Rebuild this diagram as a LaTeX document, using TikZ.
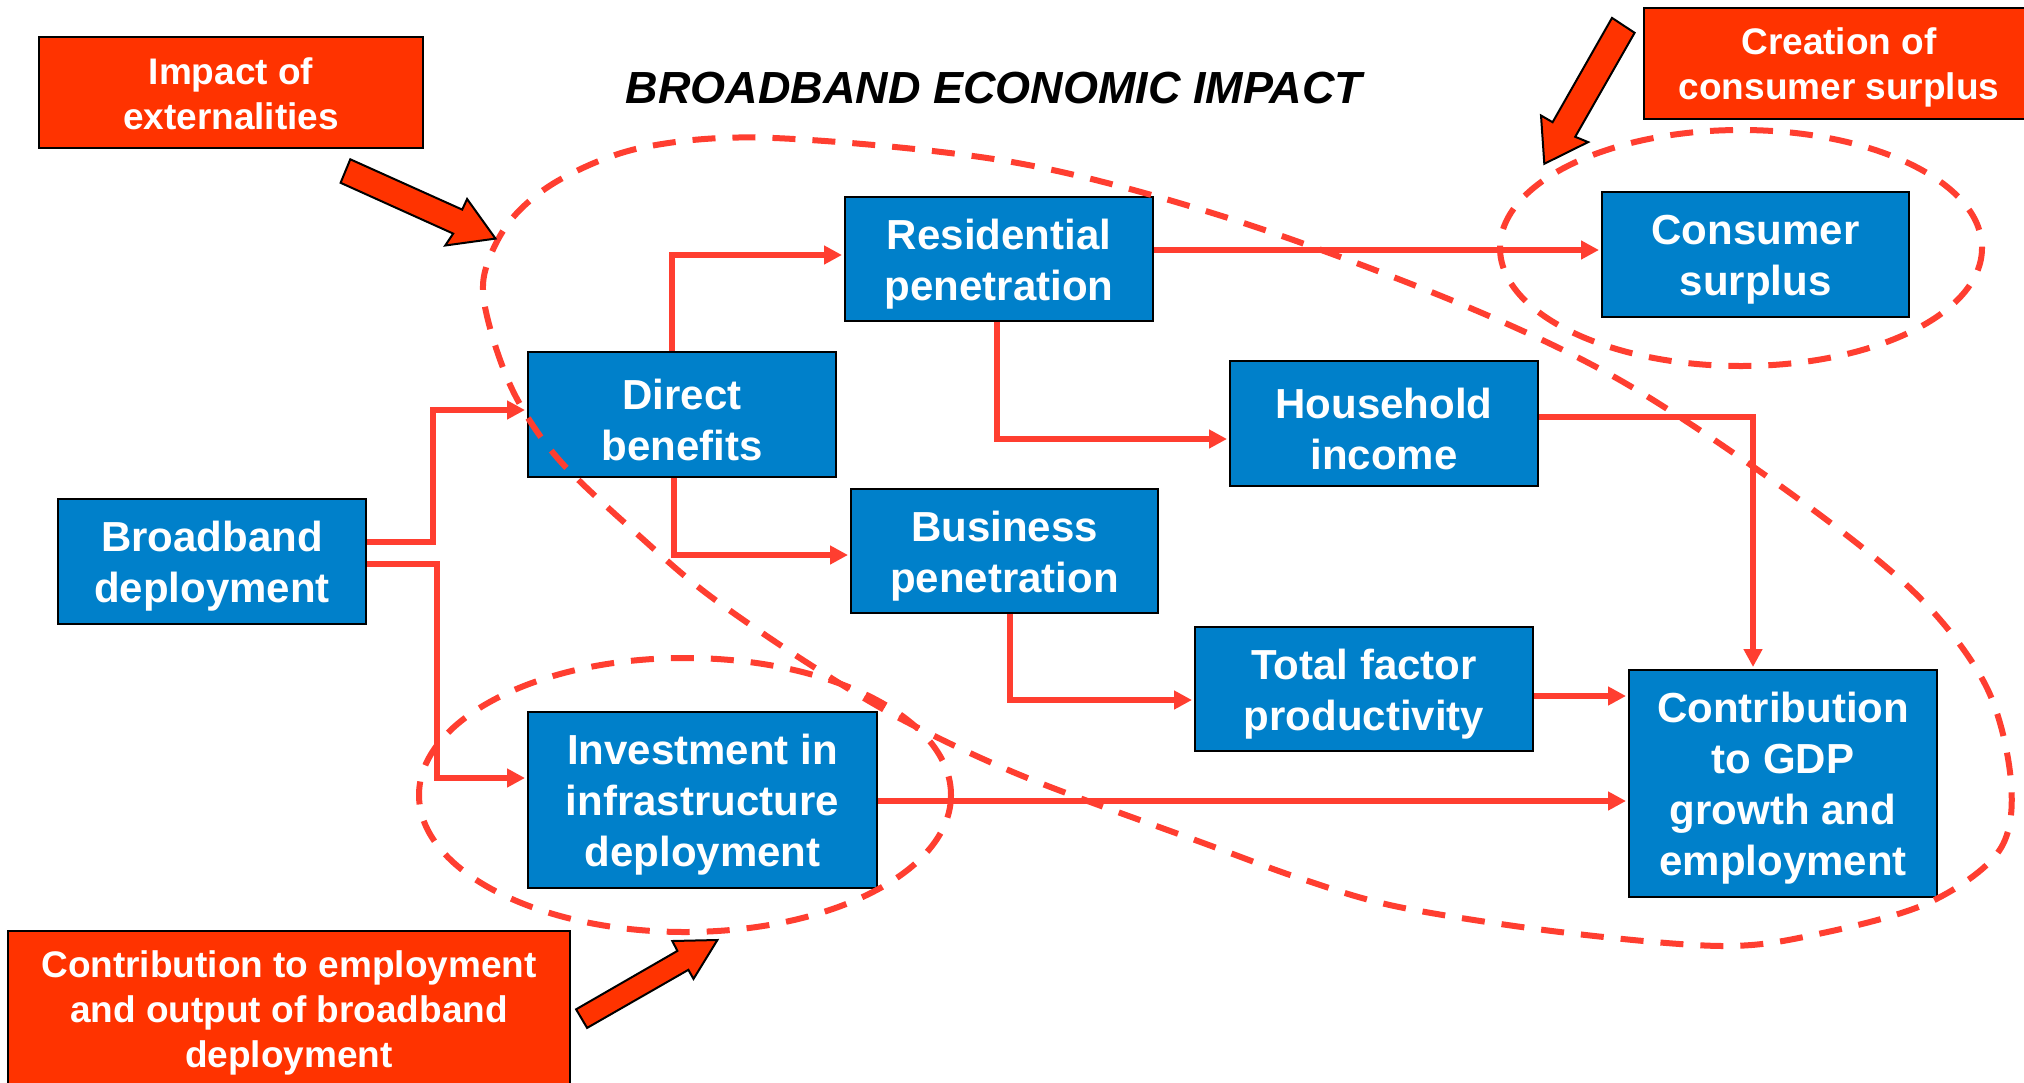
\documentclass[tikz,border=0pt]{standalone}
\usepackage{fontspec}
\setmainfont{Liberation Sans}
\usetikzlibrary{arrows.meta,calc}
\definecolor{bbblue}{RGB}{0,128,202}
\definecolor{bborange}{RGB}{255,51,0}
\definecolor{bbred}{RGB}{255,62,48}
\tikzset{
  bluebox/.style={draw=black, line width=1pt, fill=bbblue, inner sep=0pt},
  bluetext/.style={text=white, align=center, inner sep=0pt,
    font=\bfseries\fontsize{21}{25.5}\selectfont},
  orangebox/.style={draw=black, line width=1.2pt, fill=bborange, inner sep=0pt},
  orangetext/.style={text=white, align=center, inner sep=0pt,
    font=\bfseries\fontsize{18.5}{22.5}\selectfont},
  conn/.style={draw=bbred, line width=3pt, shorten >=1pt, -{Triangle[length=9pt,width=9pt]}},
  dashline/.style={draw=bbred, line width=3pt, dash pattern=on 11.5pt off 8.5pt},
  blockarrow/.style={draw=black, line width=1pt, fill=bborange, line join=miter}
}
\begin{document}
\begin{tikzpicture}[x=0.5pt,y=-0.5pt]
\useasboundingbox (0,0) rectangle (2024,1082);
\clip (0,0) rectangle (2024,1082);
\fill[white] (0,0) rectangle (2024,1082);

% title
\node[anchor=base, font=\bfseries\itshape\fontsize{22.5}{27}\selectfont] (title) at (994,103) {BROADBAND ECONOMIC IMPACT};

% blue boxes
\node[bluebox, minimum width=154pt, minimum height=62.5pt] (broad) at (212,561.5) {};
\node[bluebox, minimum width=154pt, minimum height=62.5pt] (direct) at (682,414.5) {};
\node[bluebox, minimum width=154pt, minimum height=62pt] (resid) at (999,259) {};
\node[bluebox, minimum width=153.5pt, minimum height=62.5pt] (consumer) at (1755.5,254.5) {};
\node[bluebox, minimum width=154pt, minimum height=62.5pt] (household) at (1384,423.5) {};
\node[bluebox, minimum width=153.5pt, minimum height=62pt] (business) at (1004.5,551) {};
\node[bluebox, minimum width=169pt, minimum height=62pt] (tfp) at (1364,689) {};
\node[bluebox, minimum width=154pt, minimum height=113.5pt] (gdp) at (1783,783.5) {};
\node[bluebox, minimum width=174.5pt, minimum height=88pt] (invest) at (702.5,800) {};

\node[bluetext] (broadT) at ($(broad)+(0,5)$) {Broadband\\deployment};
\node[bluetext] (directT) at ($(direct)+(0,5)$) {Direct\\benefits};
\node[bluetext] (residT) at ($(resid)+(0,5)$) {Residential\\penetration};
\node[bluetext] (consumerT) at ($(consumer)+(0,5)$) {Consumer\\surplus};
\node[bluetext] (householdT) at ($(household)+(0,5)$) {Household\\income};
\node[bluetext] (businessT) at ($(business)+(0,5)$) {Business\\penetration};
\node[bluetext] (tfpT) at ($(tfp)+(0,5)$) {Total factor\\productivity};
\node[bluetext] (gdpT) at ($(gdp)+(0,5)$) {Contribution\\to GDP\\growth and\\employment};
\node[bluetext] (investT) at ($(invest)+(0,5)$) {Investment in\\infrastructure\\deployment};

% orange boxes
\node[orangebox, minimum width=192pt, minimum height=55.5pt] (impact) at (231,92.5) {};
\node[orangebox, minimum width=195pt, minimum height=55.5pt] (creation) at (1839,63.5) {};
\node[orangebox, minimum width=281pt, minimum height=78pt] (contribemp) at (289,1009) {};
\node[orangetext] (impactT) at ($(impact)+(0,1)$) {Impact of\\externalities};
\node[orangetext] (creationT) at ($(creation)+(0,4)$) {Creation of\\consumer surplus};
\node[orangetext] (contribempT) at ($(contribemp)+(0,4)$) {Contribution to employment\\and output of broadband\\deployment};

% connectors
\draw[conn] ($(broad.east)+(0,-19.5)$) -- ++(66,0) |- ($(direct.west)+(0,-4.5)$);
\draw[conn] ($(broad.east)+(0,2.5)$) -- ++(70,0) |- ($(invest.west)+(0,-22)$);
\draw[conn] ($(direct.north)+(-10,0)$) |- ($(resid.west)+(0,-4)$);
\draw[conn] ($(direct.south)+(-8,0)$) |- ($(business.west)+(0,4)$);
\draw[conn] ($(resid.south)+(-2,0)$) |- ($(household.west)+(0,15.5)$);
\draw[conn] ($(resid.east)+(0,-9)$) -- ($(consumer.west)+(0,-4.5)$);
\draw[conn] ($(household.east)+(0,-6.5)$) -| ($(gdp.north)+(-30,0)$);
\draw[conn] ($(business.south)+(5.5,0)$) |- ($(tfp.west)+(0,11)$);
\draw[conn] ($(tfp.east)+(0,7)$) -- ($(gdp.west)+(0,-87.5)$);
\draw[conn] ($(invest.east)+(0,1)$) -- ($(gdp.west)+(0,17.5)$);

% dashed outlines
\draw[dashline] (1741,248) ellipse [x radius=241, y radius=118];
\draw[dashline] (685,795) ellipse [x radius=266, y radius=137];
\draw[dashline] plot[smooth cycle, tension=0.55] coordinates {
 (774,138) (1012,162) (1225,217) (1451,300) (1618,379) (1786,490) (1915,593)
 (1986,686) (2011,782) (1999,851) (1928,903) (1818,934) (1722,946) (1560,932)
 (1399,907) (1302,879) (1206,844) (1025,777) (903,720) (806,662) (710,596)
 (645,541) (561,462) (516,397) (490,328) (484,276) (510,221) (561,179) (645,147)};

% block arrows
\draw[blockarrow] (350.3,159.3) -- (462.2,209.6) -- (467.1,199.0) -- (495.5,238.6)
  -- (445.2,245.5) -- (453.2,233.6) -- (340.6,182.8) -- cycle;
\draw[blockarrow] (1612,17.9) -- (1634.6,32.8) -- (1575.2,136.8) -- (1588.1,142.1)
  -- (1544.3,163.8) -- (1541,115.5) -- (1552.6,122.2) -- cycle;
\draw[blockarrow] (576.1,1009.3) -- (677.4,950.9) -- (672.3,941) -- (717.4,940)
  -- (693.5,978.9) -- (688.4,969.8) -- (587.1,1027.9) -- cycle;
\end{tikzpicture}
\end{document}
